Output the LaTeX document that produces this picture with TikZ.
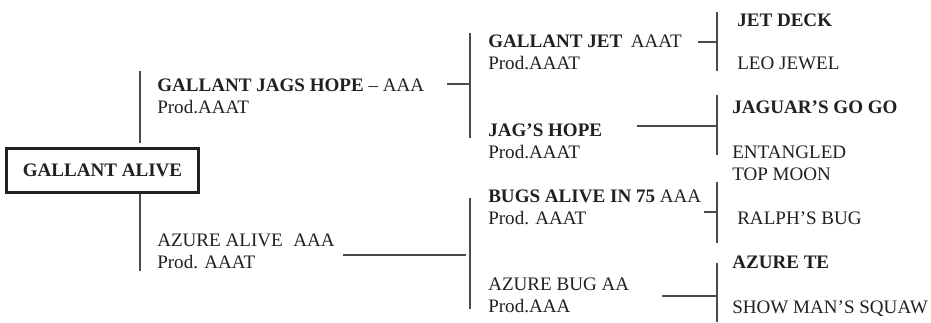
\documentclass[tikz,border=0pt]{standalone}
\usepackage{fontspec}
\setmainfont{Liberation Serif}
\usepackage{tikz}
\usetikzlibrary{positioning}
\definecolor{inkgray}{HTML}{231F20}
\definecolor{linegray}{HTML}{4A4A4A}

\begin{document}
\begin{tikzpicture}[x=0.75pt,y=-0.75pt,
    horse/.style={anchor=base west, inner sep=0pt, align=left, text=inkgray,
      font=\fontsize{14.3}{16.2}\selectfont},
    rootbox/.style={draw=inkgray, line width=1.6pt, minimum width=144pt, minimum height=33pt,
      inner sep=0pt, text=inkgray, font=\fontsize{14.3}{16.2}\selectfont\bfseries},
    link/.style={draw=linegray, line width=0.8pt}]
    \useasboundingbox (0,0) rectangle (931,322);

    % the horse itself
    \node[rootbox] (root) at (102.5,170.5) {GALLANT ALIVE};

    % parents (placed at the baseline of the Prod. line)
    \node[horse] (sire) at (157,113) {\textbf{GALLANT JAGS HOPE} – AAA\\Prod.AAAT};
    \node[horse] (dam) at (157,268) {AZURE ALIVE\hspace{0.55em}AAA\\Prod. AAAT};

    % grandparents
    \node[horse] (ss) at (488,69) {\textbf{GALLANT JET}\hspace{0.45em}AAAT\\Prod.AAAT};
    \node[horse] (sd) at (488,158) {\textbf{JAG’S HOPE}\\Prod.AAAT};
    \node[horse] (ds) at (488,224) {\textbf{BUGS ALIVE IN 75} AAA\\Prod. AAAT};
    \node[horse] (dd) at (488,312) {AZURE BUG AA\\Prod.AAA};

    % great grandparents
    \node[horse] (sss) at (737,26) {\textbf{JET DECK}};
    \node[horse] (ssd) at (737,69) {LEO JEWEL};
    \node[horse] (sds) at (732,113) {\textbf{JAGUAR’S GO GO}};
    \node[horse] (sdd) at (732,158) {ENTANGLED};
    \node[horse] (dss) at (732,180) {TOP MOON};
    \node[horse] (dsd) at (737,224) {RALPH’S BUG};
    \node[horse] (dds) at (732,268) {\textbf{AZURE TE}};
    \node[horse] (ddd) at (732,313) {SHOW MAN’S SQUAW};

    % bracket ends
    \coordinate (rootTop) at (140,71);
    \coordinate (rootMid) at (140,143);
    \coordinate (rootBot) at (140,271);
    \coordinate (sireOut) at (447,84);
    \coordinate (sireTop) at (470,33);
    \coordinate (sireBot) at (470,138);
    \coordinate (damOut) at (343,255);
    \coordinate (damTop) at (470,198);
    \coordinate (damBot) at (470,309);
    \coordinate (ssOut) at (698,42);
    \coordinate (ssTop) at (717,12);
    \coordinate (ssBot) at (717,71);
    \coordinate (sdOut) at (637,126);
    \coordinate (sdTop) at (717,95);
    \coordinate (sdBot) at (717,155);
    \coordinate (dsOut) at (704,212);
    \coordinate (dsTop) at (717,182);
    \coordinate (dsBot) at (717,243);
    \coordinate (ddOut) at (662,296);
    \coordinate (ddTop) at (717,263);
    \coordinate (ddBot) at (717,322);

    % connectors
    \draw[link] (rootTop) -- (rootMid);
    \draw[link] (root.south -| rootBot) -- (rootBot);
    \draw[link] (sireOut) -- (sireOut -| sireTop);
    \draw[link] (sireTop) -- (sireBot);
    \draw[link] (damOut) -- ([xshift=-3pt]damOut -| damTop);
    \draw[link] (damTop) -- (damBot);
    \draw[link] (ssOut) -- (ssOut -| ssTop);
    \draw[link] (ssTop) -- (ssBot);
    \draw[link] (sdOut) -- (sdOut -| sdTop);
    \draw[link] (sdTop) -- (sdBot);
    \draw[link] (dsOut) -- (dsOut -| dsTop);
    \draw[link] (dsTop) -- (dsBot);
    \draw[link] (ddOut) -- (ddOut -| ddTop);
    \draw[link] (ddTop) -- (ddBot);
\end{tikzpicture}
\end{document}
